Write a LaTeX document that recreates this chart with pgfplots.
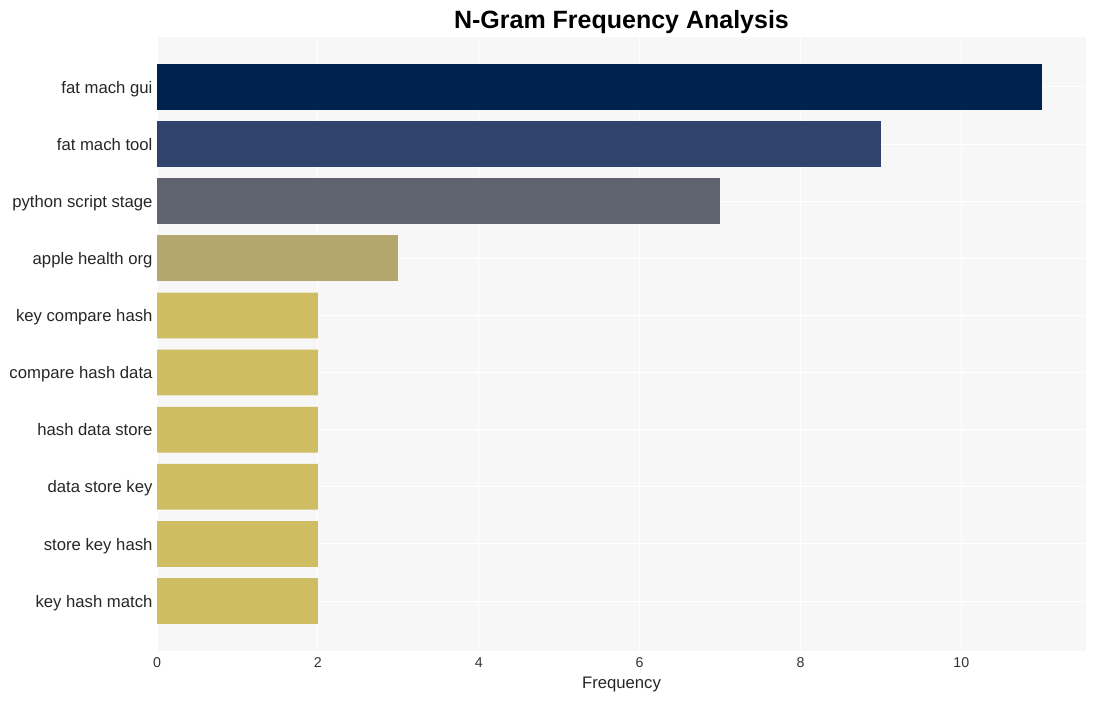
\documentclass[border=0pt]{standalone}
\usepackage{pgfplots}
\pgfplotsset{compat=1.18}
\usepackage{fontspec}
\setmainfont{Liberation Sans}
\definecolor{bgc}{HTML}{F7F7F7}
\definecolor{c1}{HTML}{00224E}
\definecolor{c2}{HTML}{2F436E}
\definecolor{c3}{HTML}{5F636F}
\definecolor{c4}{HTML}{B4A76D}
\definecolor{c5}{HTML}{CFBD63}
\begin{document}
\begin{tikzpicture}
\useasboundingbox (0pt,0pt) rectangle (1097pt,701pt);
\begin{axis}[
  at={(157pt,50pt)}, anchor=south west,
  scale only axis, width=929pt, height=614pt,
  xmin=0, xmax=11.55, ymin=-0.875, ymax=9.875,
  y dir=reverse,
  axis background/.style={fill=bgc},
  axis line style={draw=none},
  major tick length=0pt,
  grid=major, major grid style={white, line width=1pt},
  xtick={0,2,4,6,8,10},
  ytick={0,1,2,3,4,5,6,7,8,9},
  yticklabels={fat mach gui, fat mach tool, python script stage, apple health org, key compare hash, compare hash data, hash data store, data store key, store key hash, key hash match},
  typeset ticklabels with strut,
  yticklabel style={font=\fontsize{16.7}{18}\selectfont, text=black!85, xshift=-1pt, yshift=-2.5pt},
  xticklabel style={font=\fontsize{14.2}{15}\selectfont, text=black!80, yshift=-2pt},
  /pgf/number format/assume math mode=true,
  xlabel={Frequency},
  xlabel style={font=\fontsize{16.7}{18}\selectfont, text=black!85, yshift=1pt},
  title={\textbf{N-Gram Frequency Analysis}},
  title style={font=\fontsize{25}{28}\selectfont, yshift=-6pt},
  xbar, bar width=45.7pt, bar shift=0pt,
]
\addplot[fill=c1, draw=none] coordinates {(11,0)};
\addplot[fill=c2, draw=none] coordinates {(9,1)};
\addplot[fill=c3, draw=none] coordinates {(7,2)};
\addplot[fill=c4, draw=none] coordinates {(3,3)};
\addplot[fill=c5, draw=none] coordinates {(2,4) (2,5) (2,6) (2,7) (2,8) (2,9)};
\end{axis}
\end{tikzpicture}
\end{document}
